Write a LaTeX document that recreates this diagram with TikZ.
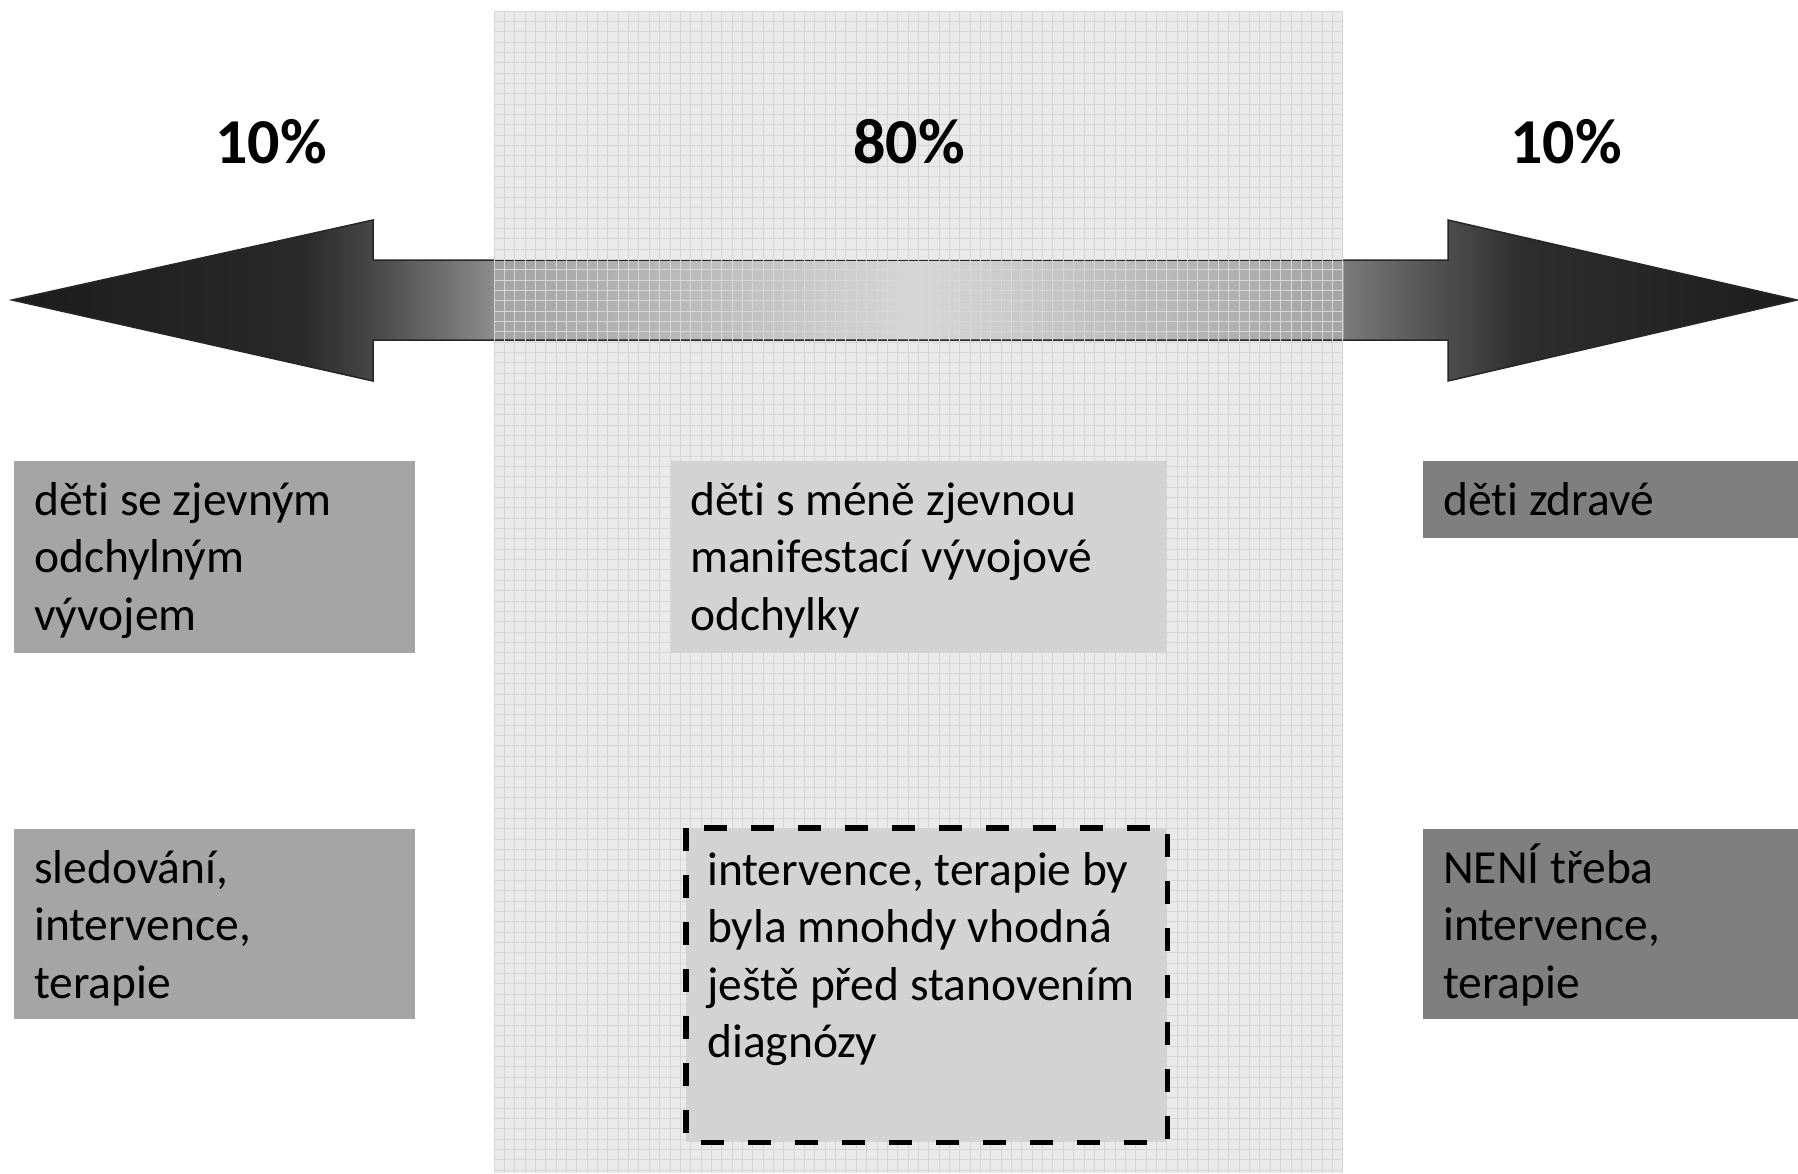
\documentclass[tikz,border=0pt]{standalone}
\usepackage{fontspec}
\setmainfont{Carlito}[Ligatures={NoCommon}]
\usetikzlibrary{calc}
\definecolor{bandbg}{HTML}{EAEAEA}
\definecolor{gridc}{HTML}{D6D6D6}
\definecolor{boxL}{HTML}{A5A5A5}
\definecolor{boxC}{HTML}{D3D3D3}
\definecolor{boxR}{HTML}{7F7F7F}
\pgfdeclarehorizontalshading{arrowshade}{100bp}{%
 color(0bp)=(black!89);
 color(25bp)=(black!89);
 color(33.07bp)=(black!84);
 color(35.11bp)=(black!72);
 color(38.50bp)=(black!45);
 color(38.51bp)=(black!36);
 color(50.38bp)=(black!16);
 color(62.28bp)=(black!36);
 color(62.29bp)=(black!52);
 color(65.22bp)=(black!70);
 color(67.24bp)=(black!82);
 color(75bp)=(black!89);
 color(100bp)=(black!89)}
\tikzset{
  boxnode/.style={rectangle, draw=none, inner sep=0pt, anchor=north west},
  txt/.style={inner sep=0pt, anchor=base west, font=\fontsize{47.5}{57.5}\selectfont},
  pct/.style={inner sep=0pt, anchor=base, font=\fontsize{64}{70}\selectfont\bfseries},
}
\newcommand{\boxtext}[1]{\parbox[t]{490pt}{\raggedright #1}}
\begin{document}
\begin{tikzpicture}[x=1pt,y=-1pt]
\useasboundingbox (0,0) rectangle (1798,1173);
% central band
\fill[bandbg] (494,11) rectangle (1343,1173);
% arrow
\shade[shading=arrowshade, draw=black!85, line width=1.5pt, line join=miter]
  (12,300) -- (373,220) -- (373,260) -- (1448,260) -- (1448,220) -- (1797,300)
  -- (1448,381) -- (1448,340) -- (373,340) -- (373,381) -- cycle;
% grid over band
\begin{scope}
\clip (494,11) rectangle (1343,1173);
\foreach \i in {0,...,83} \draw[gridc, line width=0.9pt] ({494+\i*10.35},11) -- ({494+\i*10.35},1173);
\foreach \j in {0,...,113} \draw[gridc, line width=0.9pt] (494,{11+\j*10.35}) -- (1343,{11+\j*10.35});
\end{scope}
% percentages
\node[pct] (p1) at (271,163) {10\%};
\node[pct] (p2) at (909,163) {80\%};
\node[pct] (p3) at (1566,163) {10\%};
% boxes
\node[boxnode, fill=boxL, minimum width=401, minimum height=192] (L1) at (14,461) {};
\node[boxnode, fill=boxL, minimum width=401, minimum height=190] (L2) at (14,829) {};
\node[boxnode, fill=boxC, minimum width=495, minimum height=192] (C1) at (671,461) {};
\node[boxnode, fill=boxC, minimum width=481, minimum height=314] (C2) at (686,828) {};
\draw[black, line width=5.5pt, dash pattern=on 23pt off 24pt] (C2.north west) rectangle (C2.south east);
\node[boxnode, fill=boxR, minimum width=375, minimum height=77] (R1) at (1423,461) {};
\node[boxnode, fill=boxR, minimum width=375, minimum height=190] (R2) at (1423,829) {};
% texts
\node[txt] (tL1) at (34,515) {\boxtext{děti se zjevným\\odchylným\\vývojem}};
\node[txt] (tL2) at (34,883) {\boxtext{sledování,\\intervence,\\terapie}};
\node[txt] (tC1) at (690,515) {\boxtext{děti s méně zjevnou\\manifestací vývojové\\odchylky}};
\node[txt] (tC2) at (707,885) {\boxtext{intervence, terapie by\\byla mnohdy vhodná\\ještě před stanovením\\diagnózy}};
\node[txt] (tR1) at (1443,515) {\boxtext{děti zdravé}};
\node[txt] (tR2) at (1443,883) {\boxtext{NENÍ třeba\\intervence,\\terapie}};
\end{tikzpicture}
\end{document}
